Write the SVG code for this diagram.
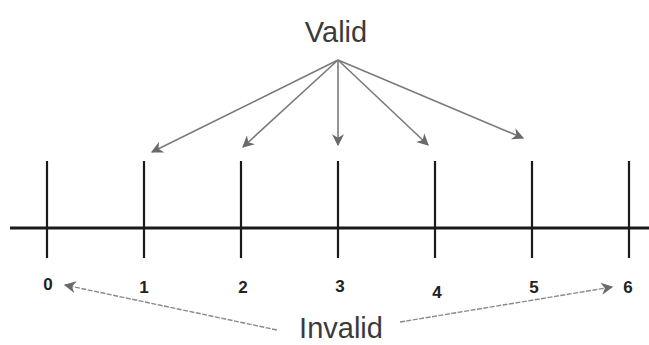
<svg xmlns="http://www.w3.org/2000/svg" width="649" height="345" viewBox="0 0 649 345">
<style>
.axis{stroke:#1a1a1a;stroke-width:3;fill:none}
.tick{stroke:#1a1a1a;stroke-width:2.2;fill:none}
.num{font-family:"Liberation Sans",Arial,sans-serif;font-size:17px;font-weight:bold;fill:#222;text-anchor:middle}
.word{font-family:"Liberation Sans",Arial,sans-serif;font-size:29px;fill:#3a3a3a;text-anchor:middle}
.arr{stroke:#7a7a7a;stroke-width:1.6;fill:none;marker-end:url(#ah)}
.arr2{stroke:#8a8a8a;stroke-width:1.4;fill:none;stroke-dasharray:5 1.5;marker-end:url(#ah)}
</style>
<defs>
<marker id="ah" viewBox="0 0 10 10" refX="9" refY="5" markerWidth="12" markerHeight="12" markerUnits="userSpaceOnUse" orient="auto">
<path d="M0,0 L10,5 L0,10 L3,5 Z" fill="#6a6a6a"/>
</marker>
</defs>
<rect width="649" height="345" fill="#ffffff"/>
<g id="axis">
<line class="axis" x1="10" y1="228" x2="649" y2="228"/>
<line class="tick" x1="47" y1="161" x2="47" y2="258"/>
<line class="tick" x1="144" y1="161" x2="144" y2="258"/>
<line class="tick" x1="241" y1="161" x2="241" y2="258"/>
<line class="tick" x1="338" y1="161" x2="338" y2="258"/>
<line class="tick" x1="435" y1="161" x2="435" y2="258"/>
<line class="tick" x1="532" y1="161" x2="532" y2="258"/>
<line class="tick" x1="629" y1="161" x2="629" y2="258"/>
</g>
<g id="labels">
<text class="num" x="48" y="290">0</text>
<text class="num" x="144" y="293">1</text>
<text class="num" x="243" y="293">2</text>
<text class="num" x="340" y="292">3</text>
<text class="num" x="437" y="298">4</text>
<text class="num" x="534" y="293">5</text>
<text class="num" x="628" y="293">6</text>
</g>
<g id="valid"><text class="word" x="336" y="42">Valid</text></g>
<g id="invalid"><text class="word" x="341" y="338">Invalid</text></g>
<g id="connectors">
<line class="arr" x1="338" y1="60" x2="152" y2="152"/>
<line class="arr" x1="338" y1="60" x2="243" y2="147"/>
<line class="arr" x1="338" y1="60" x2="338" y2="145"/>
<line class="arr" x1="338" y1="60" x2="428" y2="145"/>
<line class="arr" x1="338" y1="60" x2="523" y2="138"/>
<line class="arr2" x1="277" y1="330" x2="65" y2="285"/>
<line class="arr2" x1="400" y1="322" x2="612" y2="287"/>
</g>
</svg>
